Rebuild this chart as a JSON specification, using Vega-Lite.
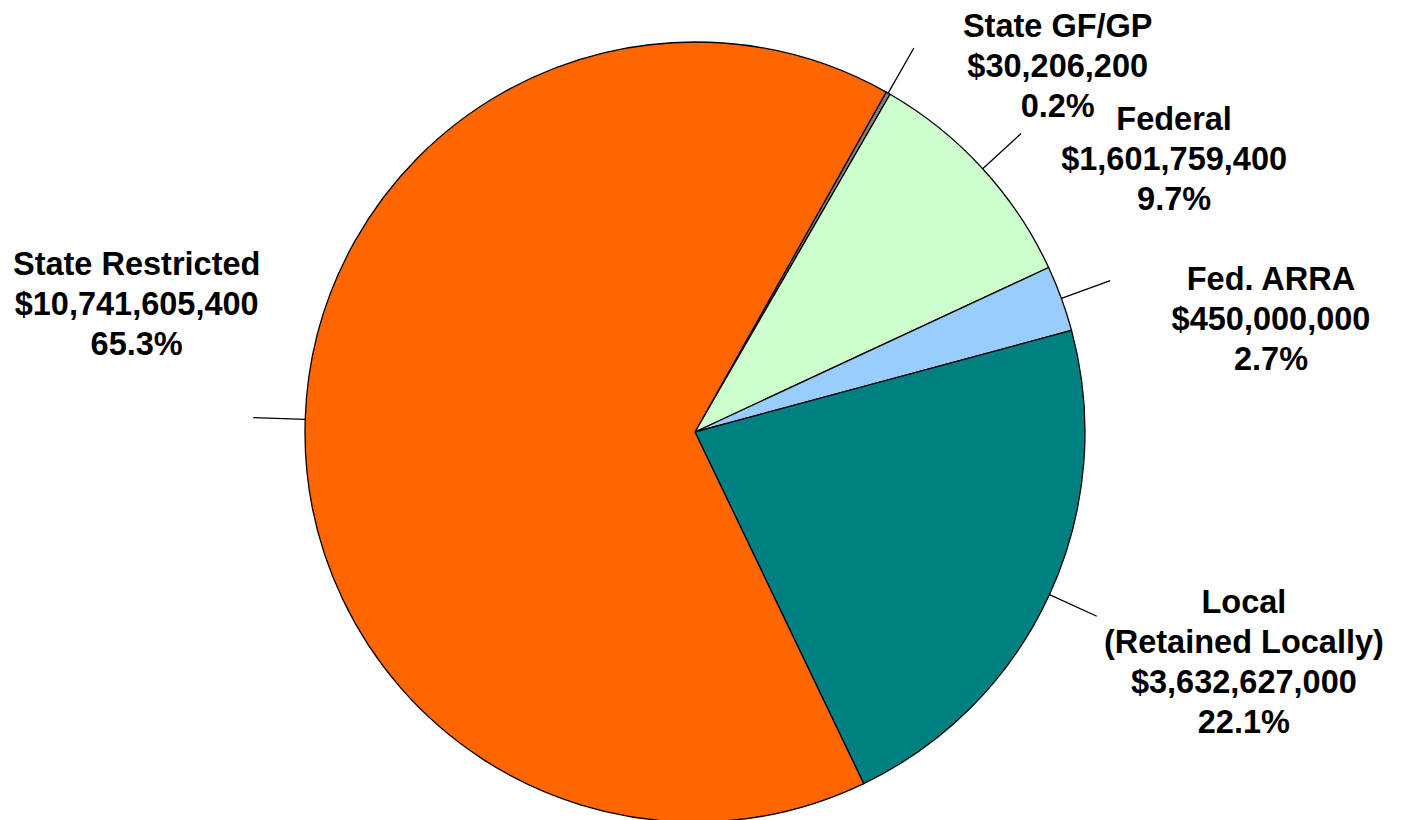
{
  "$schema": "https://vega.github.io/schema/vega-lite/v6.json",
  "width": 1390,
  "height": 864,
  "autosize": {"type": "none"},
  "padding": 0,
  "background": "white",
  "config": {"view": {"stroke": null}},
  "data": {
    "values": [
      {"name": "State GF/GP", "value": 30206200, "order": 1},
      {"name": "Federal", "value": 1601759400, "order": 2},
      {"name": "Fed. ARRA", "value": 450000000, "order": 3},
      {"name": "Local\n(Retained Locally)", "value": 3632627000, "order": 4},
      {"name": "State Restricted", "value": 10741605400, "order": 5}
    ]
  },
  "transform": [
    {"stack": "value", "groupby": [], "sort": [{"field": "order"}], "as": ["v0", "v1"]},
    {"joinaggregate": [{"op": "sum", "field": "value", "as": "total"}]},
    {"calculate": "datum.v0 / datum.total", "as": "f0"},
    {"calculate": "datum.v1 / datum.total", "as": "f1"},
    {"calculate": "(datum.f0 + datum.f1) / 2", "as": "fm"},
    {"calculate": "0.5123 + 2 * PI * datum.fm", "as": "ang"},
    {"calculate": "datum.name + '\\n' + format(datum.value, '$,') + '\\n' + format(datum.value / datum.total, '.1%')", "as": "label"}
  ],
  "resolve": {"scale": {"theta": "independent"}},
  "layer": [
    {
      "mark": {"type": "arc", "outerRadius": 390, "stroke": "black", "strokeWidth": 1.3},
      "encoding": {
        "theta": {"field": "f0", "type": "quantitative", "stack": null, "scale": {"domain": [0, 1], "range": [0.5123, 6.7955], "zero": true, "nice": false}},
        "theta2": {"field": "f1"},
        "color": {
          "field": "name",
          "type": "nominal",
          "legend": null,
          "scale": {
            "domain": ["State GF/GP", "Federal", "Fed. ARRA", "Local\n(Retained Locally)", "State Restricted"],
            "range": ["#808080", "#CCFFCC", "#99CCFF", "#008080", "#FF6600"]
          }
        }
      }
    },
    {
      "mark": {"type": "arc", "radius": 442, "radius2": 390, "fill": null, "stroke": "black", "strokeWidth": 1.3},
      "encoding": {
        "theta": {"field": "fm", "type": "quantitative", "stack": null, "scale": {"domain": [0, 1], "range": [0.5123, 6.7955], "zero": true, "nice": false}},
        "theta2": {"field": "fm"}
      }
    },
    {
      "transform": [{"filter": "sin(datum.ang) > 0 && cos(datum.ang) > 0"}],
      "mark": {"type": "text", "radius": 480, "dx": 125, "dy": 12, "align": "center", "baseline": "middle", "font": "Liberation Sans", "fontWeight": "bold", "fontSize": 32.5, "lineHeight": 40, "lineBreak": "\n", "color": "black"},
      "encoding": {
        "theta": {"field": "fm", "type": "quantitative", "stack": null, "scale": {"domain": [0, 1], "range": [0.5123, 6.7955], "zero": true, "nice": false}},
        "text": {"field": "label"}
      }
    },
    {
      "transform": [{"filter": "sin(datum.ang) > 0 && cos(datum.ang) <= 0"}],
      "mark": {"type": "text", "radius": 450, "dx": 170, "dy": -72, "align": "center", "baseline": "middle", "font": "Liberation Sans", "fontWeight": "bold", "fontSize": 32.5, "lineHeight": 40, "lineBreak": "\n", "color": "black"},
      "encoding": {
        "theta": {"field": "fm", "type": "quantitative", "stack": null, "scale": {"domain": [0, 1], "range": [0.6523, 6.9355], "zero": true, "nice": false}},
        "text": {"field": "label"}
      }
    },
    {
      "transform": [{"filter": "sin(datum.ang) <= 0"}],
      "mark": {"type": "text", "radius": 450, "dx": -115, "dy": -90, "align": "center", "baseline": "middle", "font": "Liberation Sans", "fontWeight": "bold", "fontSize": 32.5, "lineHeight": 40, "lineBreak": "\n", "color": "black"},
      "encoding": {
        "theta": {"field": "fm", "type": "quantitative", "stack": null, "scale": {"domain": [0, 1], "range": [0.6523, 6.9355], "zero": true, "nice": false}},
        "text": {"field": "label"}
      }
    }
  ]
}
